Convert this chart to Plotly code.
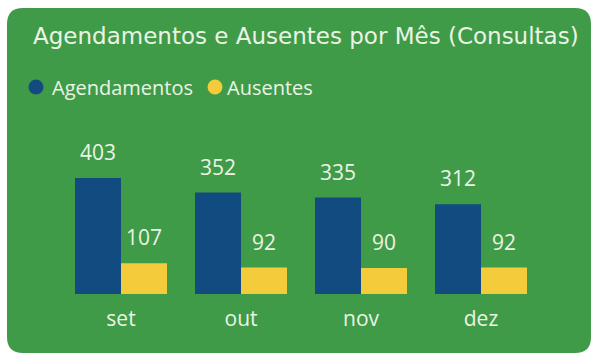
import plotly.graph_objects as go

# Monthly appointment data (consultations)
months = ["set", "out", "nov", "dez"]
agendamentos = [403, 352, 335, 312]
ausentes = [107, 92, 90, 92]

series_names = ["Agendamentos", "Ausentes"]
title_text = "Agendamentos e Ausentes por Mês (Consultas)"

W, H = 595, 354
GREEN = "#409b48"
BLUE = "#124b80"
YELLOW = "#f3cb3b"
TEXT = "#eaf4e4"
LABEL_FONT = "Open Sans"


def px_x(x):
    return x / W


def px_y(y):
    return 1 - y / H


fig = go.Figure()
fig.add_trace(go.Bar(x=months, y=agendamentos, name=series_names[0],
                     marker=dict(color=BLUE, line=dict(width=0)), showlegend=False))
fig.add_trace(go.Bar(x=months, y=ausentes, name=series_names[1],
                     marker=dict(color=YELLOW, line=dict(width=0)), showlegend=False))

# Value labels above each bar
annotations = []
for vals, shift in ((agendamentos, -23), (ausentes, 23)):
    for m, v in zip(months, vals):
        annotations.append(dict(x=m, y=v, xref="x", yref="y", text=str(v),
                                showarrow=False, xshift=shift, yshift=10,
                                yanchor="bottom",
                                font=dict(family=LABEL_FONT, size=21, color=TEXT)))

# Title
annotations.append(dict(x=px_x(31), y=px_y(36), xref="paper", yref="paper",
                        text=title_text, showarrow=False, xanchor="left",
                        yanchor="middle",
                        font=dict(family="DejaVu Sans", size=23, color=TEXT)))

# Legend: colored dots with names
legend_items = [(series_names[0], BLUE, 36, 52), (series_names[1], YELLOW, 215, 227)]
shapes = []
# Rounded green panel
x0, x1, y0, y1, r = 7, 591, 8, 353, 16
path = (f"M {px_x(x0 + r)},{px_y(y0)} L {px_x(x1 - r)},{px_y(y0)} "
        f"Q {px_x(x1)},{px_y(y0)} {px_x(x1)},{px_y(y0 + r)} "
        f"L {px_x(x1)},{px_y(y1 - r)} Q {px_x(x1)},{px_y(y1)} {px_x(x1 - r)},{px_y(y1)} "
        f"L {px_x(x0 + r)},{px_y(y1)} Q {px_x(x0)},{px_y(y1)} {px_x(x0)},{px_y(y1 - r)} "
        f"L {px_x(x0)},{px_y(y0 + r)} Q {px_x(x0)},{px_y(y0)} {px_x(x0 + r)},{px_y(y0)} Z")
shapes.append(dict(type="path", path=path, xref="paper", yref="paper",
                   fillcolor=GREEN, line=dict(width=0), layer="below"))
for name, color, cx, tx in legend_items:
    shapes.append(dict(type="circle", xref="paper", yref="paper",
                       x0=px_x(cx - 7.5), x1=px_x(cx + 7.5),
                       y0=px_y(87 + 7.5), y1=px_y(87 - 7.5),
                       fillcolor=color, line=dict(width=0)))
    annotations.append(dict(x=px_x(tx - 2), y=px_y(87), xref="paper", yref="paper",
                            text=name, showarrow=False, xanchor="left", yanchor="middle",
                            font=dict(family=LABEL_FONT, size=20, color=TEXT)))

fig.update_layout(
    width=W, height=H,
    margin=dict(l=0, r=0, t=0, b=0),
    paper_bgcolor="white",
    plot_bgcolor="rgba(0,0,0,0)",
    barmode="group",
    bargap=0.2333,
    bargroupgap=0,
    showlegend=False,
    annotations=annotations,
    shapes=shapes,
    xaxis=dict(domain=[px_x(61), px_x(541)], showgrid=False, zeroline=False,
               showline=False, ticks="", ticklabelstandoff=10,
               tickfont=dict(family=LABEL_FONT, size=21, color=TEXT)),
    yaxis=dict(domain=[px_y(294), px_y(150)], range=[0, 500], visible=False),
)

fig.write_html("out.html")
